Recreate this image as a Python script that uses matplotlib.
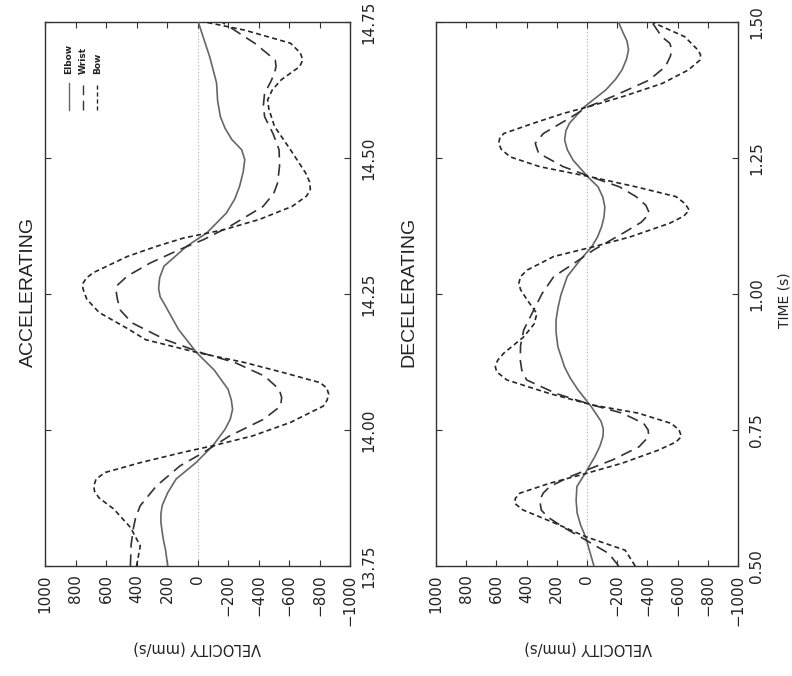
import matplotlib
matplotlib.use("Agg")
import matplotlib.pyplot as plt
from matplotlib.lines import Line2D

# ---------------- data ----------------
# ACCELERATING panel: time (s) and velocity (mm/s)
acc_elbow_t = [13.75, 13.78, 13.80, 13.83, 13.845, 13.861, 13.885, 13.91, 13.94, 13.971,
               14.001, 14.02, 14.038, 14.055, 14.075, 14.11, 14.142, 14.185, 14.228, 14.245,
               14.26, 14.28, 14.301, 14.338, 14.362, 14.399, 14.425, 14.448, 14.475, 14.497,
               14.515, 14.534, 14.555, 14.576, 14.605, 14.638, 14.686, 14.72, 14.75]
acc_elbow_v = [195, 210, 225, 240, 240, 232, 195, 140, 10, -100,
               -180, -215, -230, -222, -200, -110, 5, 125, 210, 245,
               255, 248, 220, 70, -60, -190, -245, -276, -300, -310,
               -290, -225, -180, -150, -132, -125, -80, -40, -5]

acc_wrist_t = [13.75, 13.79, 13.82, 13.84, 13.861, 13.897, 13.934, 13.958, 13.989, 14.020,
               14.044, 14.06, 14.075, 14.099, 14.124, 14.142, 14.166, 14.197, 14.22, 14.240,
               14.252, 14.265, 14.283, 14.307, 14.332, 14.35, 14.374, 14.411, 14.435, 14.454,
               14.485, 14.515, 14.545, 14.576, 14.597, 14.619, 14.64, 14.656, 14.668, 14.68,
               14.711, 14.75]
acc_wrist_v = [440, 435, 420, 405, 375, 270, 115, -35, -210, -435,
               -545, -552, -535, -440, -245, -25, 210, 430, 505, 525,
               532, 530, 460, 310, 115, -40, -210, -430, -500, -525,
               -538, -535, -495, -440, -432, -440, -480, -505, -515, -510,
               -375, -160]

acc_bow_t = [13.75, 13.787, 13.821, 13.855, 13.875, 13.887, 13.897, 13.91, 13.922, 13.940,
             13.959, 13.971, 13.989, 14.014, 14.044, 14.055, 14.066, 14.077, 14.087, 14.105,
             14.124, 14.142, 14.166, 14.185, 14.216, 14.24, 14.252, 14.261, 14.27, 14.279,
             14.289, 14.319, 14.338, 14.353, 14.368, 14.387, 14.411, 14.43, 14.442, 14.456,
             14.472, 14.515, 14.558, 14.59, 14.607, 14.625, 14.644, 14.668, 14.680, 14.693,
             14.711, 14.735, 14.75]
acc_bow_v = [400, 375, 440, 550, 645, 675, 680, 665, 605, 375,
             95, -100, -360, -610, -825, -850, -860, -848, -805, -570,
             -310, -5, 340, 450, 645, 725, 742, 752, 750, 730,
             685, 460, 265, 90, -170, -405, -620, -715, -740, -735,
             -710, -610, -505, -468, -460, -490, -550, -670, -690, -675,
             -610, -310, -50]

# DECELERATING panel
dec_elbow_t = [0.50, 0.525, 0.554, 0.575, 0.597, 0.62, 0.646, 0.670, 0.701, 0.72,
               0.738, 0.752, 0.766, 0.793, 0.824, 0.845, 0.866, 0.903, 0.93, 0.952,
               0.975, 0.998, 1.032, 1.063, 1.087, 1.105, 1.124, 1.142, 1.160, 1.178,
               1.197, 1.215, 1.246, 1.265, 1.283, 1.30, 1.314, 1.344, 1.375, 1.395,
               1.412, 1.432, 1.449, 1.465, 1.479, 1.50]
dec_elbow_v = [-46, -20, 10, 42, 65, 72, 67, 13, -52, -85,
               -106, -108, -93, -28, 60, 110, 149, 193, 205, 205,
               192, 173, 131, 44, -32, -70, -97, -113, -118, -105,
               -73, -7, 92, 130, 148, 140, 116, 18, -124, -190,
               -232, -262, -275, -265, -241, -208]

dec_wrist_t = [0.50, 0.523, 0.548, 0.572, 0.59, 0.603, 0.621, 0.634, 0.646, 0.664,
               0.676, 0.695, 0.719, 0.738, 0.75, 0.762, 0.781, 0.796, 0.817, 0.842,
               0.86, 0.879, 0.905, 0.934, 0.971, 1.001, 1.032, 1.056, 1.081, 1.112,
               1.132, 1.148, 1.163, 1.179, 1.197, 1.215, 1.234, 1.259, 1.277, 1.295,
               1.320, 1.344, 1.363, 1.393, 1.418, 1.437, 1.449, 1.461, 1.473, 1.50]
dec_wrist_v = [-210, -144, 10, 161, 260, 303, 313, 290, 247, 115,
               6, -169, -344, -409, -405, -376, -233, -35, 204, 400,
               432, 442, 440, 419, 352, 297, 220, 88, -44, -240,
               -360, -414, -390, -325, -215, -29, 157, 321, 343, 289,
               136, -6, -170, -410, -519, -552, -562, -548, -495, -429]

dec_bow_t = [0.50, 0.529, 0.554, 0.578, 0.603, 0.615, 0.624, 0.634, 0.652, 0.670,
             0.689, 0.713, 0.728, 0.738, 0.75, 0.762, 0.781, 0.796, 0.817, 0.842,
             0.857, 0.866, 0.878, 0.891, 0.921, 0.945, 0.964, 0.989, 1.008, 1.020,
             1.032, 1.044, 1.069, 1.087, 1.105, 1.130, 1.143, 1.154, 1.166, 1.179,
             1.197, 1.215, 1.234, 1.252, 1.266, 1.277, 1.286, 1.295, 1.314, 1.332,
             1.344, 1.363, 1.387, 1.412, 1.430, 1.440, 1.449, 1.473, 1.50]
dec_bow_v = [-319, -253, 10, 206, 424, 478, 475, 444, 248, 8,
             -233, -473, -590, -625, -610, -559, -339, -35, 248, 531,
             598, 607, 592, 552, 420, 350, 332, 396, 440, 451,
             440, 396, 220, -45, -286, -547, -640, -677, -650, -589,
             -325, -29, 312, 508, 568, 585, 578, 551, 354, 156,
             -6, -238, -498, -672, -748, -752, -733, -647, -429]

velocity_ticks = [1000, 800, 600, 400, 200, 0, -200, -400, -600, -800, -1000]
acc_time_ticks = [13.75, 14.00, 14.25, 14.50, 14.75]
dec_time_ticks = [0.50, 0.75, 1.00, 1.25, 1.50]
series_names = ["Elbow", "Wrist", "Bow"]

# ---------------- styling ----------------
plt.rcParams["font.family"] = ["DejaVu Sans"]
styles = {
    "Elbow": dict(color="#666666", lw=1.2, ls="-"),
    "Wrist": dict(color="#333333", lw=1.2, ls=(0, (7, 4))),
    "Bow": dict(color="#262626", lw=1.2, ls=(0, (3, 2))),
}

fig = plt.figure(figsize=(7.92, 6.76), dpi=100)
W, H = 792, 676


def add_panel(x0, x1, y0, y1):
    return fig.add_axes([x0 / W, 1 - y1 / H, (x1 - x0) / W, (y1 - y0) / H])


ax1 = add_panel(45, 350, 22, 566)
ax2 = add_panel(436, 738, 22, 566)

panels = [
    (ax1, [(acc_elbow_t, acc_elbow_v), (acc_wrist_t, acc_wrist_v), (acc_bow_t, acc_bow_v)],
     acc_time_ticks),
    (ax2, [(dec_elbow_t, dec_elbow_v), (dec_wrist_t, dec_wrist_v), (dec_bow_t, dec_bow_v)],
     dec_time_ticks),
]

for ax, data, tticks in panels:
    ax.axvline(0, color="#b0b0b0", lw=0.8, ls=(0, (1, 2)), zorder=1)
    for name, (t, v) in zip(series_names, data):
        ax.plot(v, t, **styles[name], zorder=3, solid_joinstyle="round")
    ax.set_xlim(1000, -1000)
    ax.set_ylim(tticks[0], tticks[-1])
    ax.set_xticks(velocity_ticks)
    ax.set_yticks(tticks)
    ax.set_yticklabels([f"{x:.2f}" for x in tticks])
    ax.tick_params(direction="in", length=4, width=0.8, color="#333333",
                   top=True, right=True, left=True, bottom=True,
                   labelleft=False, labelright=True, labelsize=11,
                   labelcolor="#222222")
    ax.tick_params(axis="x", pad=6)
    ax.tick_params(axis="y", pad=8)
    for lab in ax.get_xticklabels():
        lab.set_rotation(90)
    for lab in ax.get_yticklabels():
        lab.set_rotation(90)
        lab.set_va("center")
    for sp in ax.spines.values():
        sp.set_color("#333333")
        sp.set_linewidth(1.0)

# legend drawn manually (rotated like the rest of the page)
leg_x = [0.078, 0.124, 0.172]
for name, lx in zip(series_names, leg_x):
    st = styles[name]
    ax1.add_line(Line2D([lx, lx], [0.838, 0.888], transform=ax1.transAxes,
                        color=st["color"], lw=1.0, ls=st["ls"]))
    ax1.text(lx, 0.905, name, transform=ax1.transAxes, rotation=90,
             ha="center", va="bottom", fontsize=6.5, fontweight="bold",
             color="#222222")

# titles and axis labels
title_kw = dict(rotation=90, ha="center", va="center", fontsize=14,
                family=["Liberation Sans", "DejaVu Sans"], color="#222222")
fig.text(28 / W, 1 - 292 / H, "ACCELERATING", **title_kw)
fig.text(409 / W, 1 - 292 / H, "DECELERATING", **title_kw)

vel_kw = dict(rotation=180, ha="center", va="center", fontsize=10.5, color="#222222")
fig.text(197 / W, 1 - 648 / H, "VELOCITY (mm/s)", **vel_kw)
fig.text(588 / W, 1 - 648 / H, "VELOCITY (mm/s)", **vel_kw)

fig.text(785 / W, 1 - 300 / H, "TIME (s)", rotation=90, ha="center", va="center",
         fontsize=10, color="#222222")

fig.savefig("out.png", dpi=100)
